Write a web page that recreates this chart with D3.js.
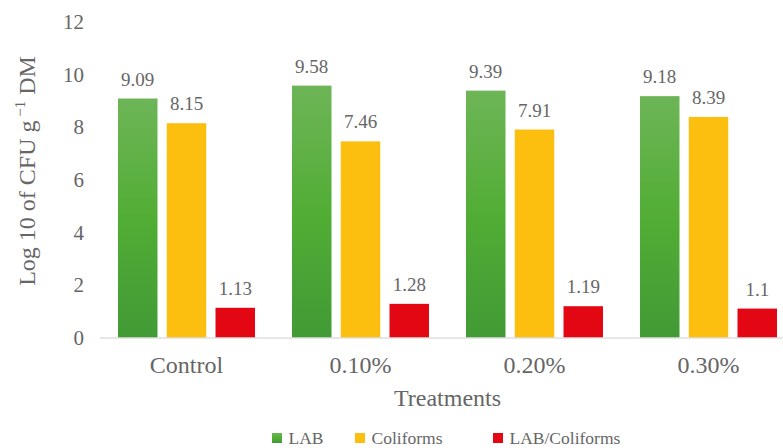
<!DOCTYPE html>
<html>
<head>
<meta charset="utf-8">
<script src="https://cdn.jsdelivr.net/npm/d3@7"></script>
<style>
  html, body { margin: 0; padding: 0; background: #fff; }
  svg text { font-family: "Liberation Serif", "Times New Roman", serif; fill: #666666; }
</style>
</head>
<body>
<svg id="chart" width="783" height="448"></svg>
<script>
// Treatments and measured counts (log10 CFU per g DM)
const categories = ["Control", "0.10%", "0.20%", "0.30%"];
const seriesNames = ["LAB", "Coliforms", "LAB/Coliforms"];
const labValues = [9.09, 9.58, 9.39, 9.18];
const coliformValues = [8.15, 7.46, 7.91, 8.39];
const ratioValues = [1.13, 1.28, 1.19, 1.1];
const yTicks = [0, 2, 4, 6, 8, 10, 12];

const series = [labValues, coliformValues, ratioValues];
const rows = categories.map((c, i) => ({
  category: c,
  values: seriesNames.map((s, j) => ({ key: s, value: series[j][i] }))
}));

const svg = d3.select("#chart");
const plot = { left: 99.5, right: 795.5, top: 22, bottom: 337.5 };
const clusterWidth = 137;

const x0 = d3.scaleBand().domain(categories).range([plot.left, plot.right]);
const x1 = d3.scaleBand().domain(seriesNames).range([0, clusterWidth]).paddingInner(0.19);
const y = d3.scaleLinear().domain([0, 12]).range([plot.bottom, plot.top]);

const fills = { "LAB": "url(#greenGrad)", "Coliforms": "#fcbf10", "LAB/Coliforms": "#e30613" };

const defs = svg.append("defs");
const g = defs.append("linearGradient").attr("id", "greenGrad")
  .attr("x1", 0).attr("y1", 0).attr("x2", 0).attr("y2", 1);
g.append("stop").attr("offset", "0%").attr("stop-color", "#6db557");
g.append("stop").attr("offset", "50%").attr("stop-color", "#52ad35");
g.append("stop").attr("offset", "100%").attr("stop-color", "#429a35");

// Y axis tick labels
const yAxis = d3.axisLeft(y).tickValues(yTicks).tickSize(0).tickPadding(0).tickFormat(d3.format("d"));
svg.append("g")
  .attr("transform", "translate(84,0)")
  .call(yAxis)
  .attr("font-family", null)
  .call(s => s.select(".domain").remove())
  .call(s => s.selectAll("text").style("font-size", "21px"));

// Bars
const groups = svg.append("g").selectAll("g")
  .data(rows).join("g")
  .attr("transform", d => `translate(${x0(d.category) + (x0.bandwidth() - clusterWidth) / 2},0)`);

groups.selectAll("rect")
  .data(d => d.values).join("rect")
  .attr("x", d => x1(d.key))
  .attr("width", x1.bandwidth())
  .attr("y", d => y(d.value))
  .attr("height", d => y(0) - y(d.value))
  .attr("fill", d => fills[d.key]);

groups.selectAll("text.val")
  .data(d => d.values).join("text")
  .attr("class", "val")
  .attr("x", d => x1(d.key) + x1.bandwidth() / 2)
  .attr("y", d => y(d.value) - 13)
  .attr("text-anchor", "middle")
  .style("font-size", "19px")
  .text(d => d.value);

// X axis baseline and category labels
const xAxis = d3.axisBottom(x0).tickSize(0).tickPadding(0);
svg.append("g")
  .attr("transform", `translate(0,${y(0)})`)
  .call(xAxis)
  .attr("font-family", null)
  .call(s => s.select(".domain").attr("stroke", "#d0d0d0").attr("stroke-width", 1.2))
  .call(s => s.selectAll("text")
    .attr("dy", "0")
    .attr("y", 35.5)
    .style("font-size", "24px"));

// Axis titles
svg.append("text")
  .attr("x", (plot.left + plot.right) / 2)
  .attr("y", 406)
  .attr("text-anchor", "middle")
  .style("font-size", "24px")
  .text("Treatments");

const yTitle = svg.append("text")
  .attr("transform", "translate(35,171) rotate(-90)")
  .attr("text-anchor", "middle")
  .style("font-size", "24px");
yTitle.append("tspan").text("Log 10 of CFU g");
yTitle.append("tspan").attr("dy", "-10").style("font-size", "15px").text(" \u22121");
yTitle.append("tspan").attr("dy", "10").text(" DM");

// Legend
const legendItems = [
  { key: "LAB", x: 272 },
  { key: "Coliforms", x: 355 },
  { key: "LAB/Coliforms", x: 493 }
];
const legend = svg.append("g").selectAll("g")
  .data(legendItems).join("g")
  .attr("transform", d => `translate(${d.x},433)`);
legend.append("rect")
  .attr("width", 10).attr("height", 10)
  .attr("fill", d => fills[d.key]);
legend.append("text")
  .attr("x", 16.5).attr("y", 11)
  .style("font-size", "17.5px")
  .text(d => d.key);
</script>
</body>
</html>
